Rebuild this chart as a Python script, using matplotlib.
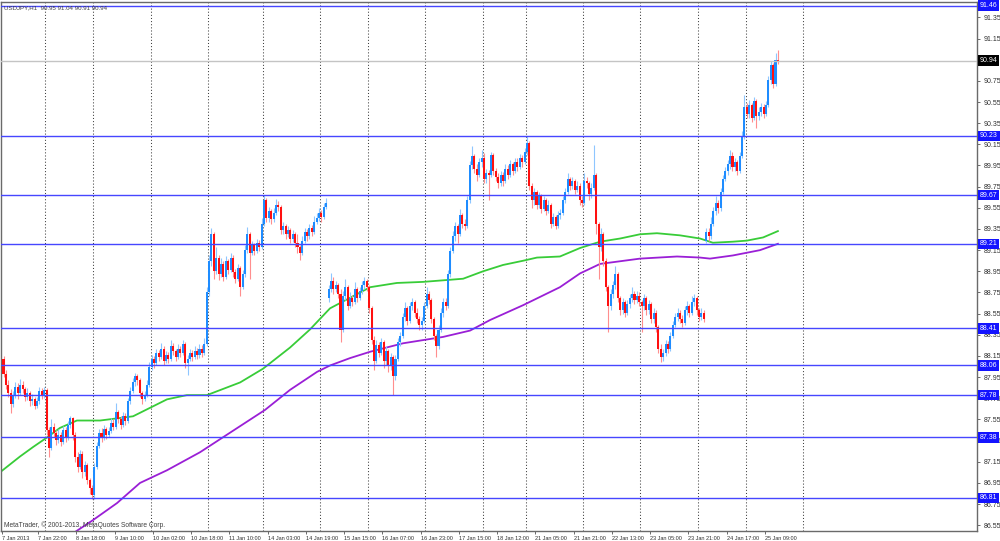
import matplotlib.pyplot as plt
import numpy as np

plt.rcParams['font.family'] = ['Liberation Sans', 'DejaVu Sans']

# USDJPY H1 bars (open = previous close unless noted)
first_open = 88.12
gap_opens = {136: 88.70, 294: 89.24, 324: 90.95}

closes = [
    87.98, 87.88, 87.80, 87.70, 87.78, 87.86, 87.80, 87.88, 87.84, 87.76,  # 0
    87.80, 87.72, 87.74, 87.68, 87.72, 87.82, 87.78, 87.83, 87.45, 87.28,
    87.48, 87.42, 87.36, 87.40, 87.34, 87.45, 87.38, 87.50, 87.56, 87.40,
    87.20, 87.10, 87.22, 87.05, 87.12, 86.98, 86.90, 86.84, 87.10, 87.30,
    87.42, 87.38, 87.46, 87.40, 87.44, 87.52, 87.48, 87.62, 87.55, 87.50,
    87.58, 87.54, 87.72, 87.82, 87.90, 87.96, 87.92, 87.80, 87.74, 87.78,  # 50
    87.88, 88.05, 88.12, 88.08, 88.18, 88.14, 88.22, 88.10, 88.16, 88.12,
    88.24, 88.20, 88.14, 88.22, 88.18, 88.26, 88.08, 88.12, 88.18, 88.14,
    88.20, 88.16, 88.22, 88.18, 88.26, 88.75, 89.05, 89.30, 88.95, 89.08,
    88.92, 89.02, 88.90, 89.05, 88.96, 89.08, 88.94, 88.88, 88.98, 88.80,
    88.92, 89.15, 89.30, 89.12, 89.20, 89.14, 89.22, 89.18, 89.40, 89.62,  # 100
    89.45, 89.52, 89.44, 89.50, 89.58, 89.56, 89.34, 89.38, 89.30, 89.34,
    89.26, 89.30, 89.22, 89.18, 89.12, 89.24, 89.32, 89.28, 89.36, 89.32,
    89.42, 89.45, 89.50, 89.46, 89.56, 89.60, 88.78, 88.86, 88.78, 88.82,
    88.74, 88.40, 88.72, 88.80, 88.62, 88.70, 88.66, 88.78, 88.70, 88.76,
    88.82, 88.86, 88.80, 88.60, 88.30, 88.10, 88.25, 88.18, 88.28, 88.10,  # 150
    88.20, 88.06, 88.14, 87.96, 88.12, 88.28, 88.34, 88.52, 88.60, 88.48,
    88.62, 88.66, 88.56, 88.50, 88.44, 88.48, 88.62, 88.74, 88.68, 88.50,
    88.34, 88.24, 88.40, 88.56, 88.66, 88.62, 88.92, 89.14, 89.28, 89.38,
    89.30, 89.48, 89.40, 89.38, 89.62, 89.95, 90.04, 89.92, 89.86, 89.98,
    90.02, 89.82, 89.88, 89.86, 90.05, 89.90, 89.84, 89.78, 89.86, 89.80,  # 200
    89.92, 89.86, 89.96, 89.90, 89.98, 89.94, 90.02, 89.98, 90.08, 90.16,
    89.76, 89.62, 89.70, 89.58, 89.66, 89.54, 89.62, 89.52, 89.58, 89.40,
    89.46, 89.38, 89.48, 89.50, 89.62, 89.70, 89.82, 89.76, 89.80, 89.72,
    89.76, 89.62, 89.60, 89.80, 89.78, 89.68, 89.74, 89.86, 89.40, 89.18,
    89.30, 89.05, 88.80, 88.62, 88.74, 88.82, 88.92, 88.70, 88.58, 88.66,  # 250
    88.56, 88.64, 88.70, 88.74, 88.68, 88.72, 88.66, 88.62, 88.70, 88.58,
    88.64, 88.50, 88.56, 88.42, 88.22, 88.14, 88.18, 88.26, 88.22, 88.34,
    88.44, 88.52, 88.56, 88.50, 88.46, 88.58, 88.62, 88.56, 88.66, 88.70,
    88.58, 88.52, 88.56, 88.50, 89.32, 89.28, 89.40, 89.52, 89.60, 89.55,
    89.70, 89.82, 89.90, 89.96, 90.04, 89.94, 89.98, 89.90, 90.04, 90.22,  # 300
    90.50, 90.44, 90.52, 90.40, 90.56, 90.42, 90.46, 90.50, 90.44, 90.52,
    90.76, 90.90, 90.72, 90.95, 90.94,
]

highs = [
    88.15, 88.02, 87.92, 87.84, 87.82, 87.90, 87.89, 87.93, 87.91, 87.86,
    87.85, 87.82, 87.79, 87.76, 87.76, 87.86, 87.85, 87.86, 87.85, 87.48,
    87.55, 87.52, 87.45, 87.46, 87.43, 87.49, 87.48, 87.54, 87.58, 87.57,
    87.43, 87.24, 87.26, 87.25, 87.16, 87.14, 87.00, 86.93, 87.14, 87.34,
    87.46, 87.47, 87.50, 87.48, 87.48, 87.56, 87.55, 87.71, 87.64, 87.58,
    87.62, 87.61, 87.75, 87.86, 87.94, 87.99, 87.98, 87.94, 87.82, 87.82,
    87.92, 88.09, 88.16, 88.15, 88.22, 88.21, 88.27, 88.24, 88.20, 88.19,
    88.30, 88.27, 88.22, 88.26, 88.24, 88.30, 88.28, 88.16, 88.22, 88.21,
    88.24, 88.23, 88.26, 88.25, 88.32, 88.80, 89.10, 89.36, 89.32, 89.18,
    89.10, 89.08, 89.05, 89.09, 89.07, 89.12, 89.10, 88.97, 89.02, 89.00,
    88.96, 89.20, 89.37, 89.32, 89.24, 89.22, 89.26, 89.25, 89.45, 89.67,
    89.64, 89.56, 89.54, 89.55, 89.63, 89.61, 89.58, 89.42, 89.40, 89.38,
    89.36, 89.34, 89.32, 89.30, 89.20, 89.28, 89.36, 89.35, 89.40, 89.39,
    89.47, 89.50, 89.55, 89.53, 89.60, 89.64, 88.82, 88.93, 88.90, 88.86,
    88.84, 88.78, 88.76, 88.88, 88.82, 88.75, 88.73, 88.85, 88.80, 88.80,
    88.86, 88.90, 88.88, 88.82, 88.62, 88.34, 88.30, 88.28, 88.32, 88.30,
    88.24, 88.22, 88.18, 88.16, 88.16, 88.32, 88.38, 88.56, 88.66, 88.62,
    88.66, 88.70, 88.68, 88.60, 88.53, 88.52, 88.66, 88.80, 88.76, 88.70,
    88.52, 88.36, 88.44, 88.60, 88.70, 88.70, 88.96, 89.18, 89.33, 89.42,
    89.40, 89.54, 89.50, 89.44, 89.66, 89.99, 90.13, 90.06, 89.96, 90.02,
    90.10, 90.07, 89.92, 89.91, 90.08, 90.07, 89.93, 89.88, 89.90, 89.89,
    89.96, 89.95, 90.00, 89.98, 90.02, 90.02, 90.06, 90.05, 90.12, 90.23,
    90.18, 89.78, 89.74, 89.72, 89.70, 89.68, 89.66, 89.64, 89.62, 89.60,
    89.50, 89.48, 89.52, 89.54, 89.66, 89.74, 89.88, 89.84, 89.84, 89.82,
    89.80, 89.78, 89.66, 89.88, 89.84, 89.80, 89.78, 90.14, 89.88, 89.42,
    89.36, 89.32, 89.08, 88.82, 88.78, 88.86, 89.00, 88.94, 88.72, 88.70,
    88.68, 88.68, 88.74, 88.80, 88.76, 88.76, 88.75, 88.68, 88.74, 88.72,
    88.68, 88.66, 88.60, 88.58, 88.44, 88.26, 88.22, 88.30, 88.29, 88.38,
    88.48, 88.56, 88.60, 88.58, 88.54, 88.62, 88.67, 88.64, 88.72, 88.74,
    88.72, 88.60, 88.60, 88.58, 89.36, 89.36, 89.46, 89.56, 89.66, 89.62,
    89.74, 89.86, 89.94, 90.00, 90.10, 90.08, 90.02, 90.00, 90.08, 90.28,
    90.62, 90.54, 90.57, 90.54, 90.60, 90.58, 90.50, 90.54, 90.53, 90.56,
    90.80, 90.94, 90.92, 91.01, 91.04,
]

lows = [
    87.95, 87.84, 87.76, 87.61, 87.67, 87.75, 87.74, 87.78, 87.80, 87.72,
    87.73, 87.68, 87.69, 87.65, 87.66, 87.70, 87.74, 87.75, 87.40, 87.20,
    87.26, 87.38, 87.31, 87.33, 87.30, 87.32, 87.34, 87.36, 87.47, 87.36,
    87.15, 87.05, 87.08, 87.00, 87.02, 86.94, 86.85, 86.80, 86.80, 87.08,
    87.28, 87.34, 87.36, 87.37, 87.38, 87.42, 87.45, 87.46, 87.52, 87.46,
    87.48, 87.50, 87.52, 87.70, 87.80, 87.87, 87.88, 87.76, 87.70, 87.72,
    87.76, 87.86, 88.02, 88.04, 88.06, 88.10, 88.12, 88.06, 88.08, 88.08,
    88.10, 88.16, 88.10, 88.12, 88.14, 88.16, 88.04, 87.97, 88.10, 88.10,
    88.12, 88.12, 88.13, 88.14, 88.16, 88.24, 88.72, 89.00, 88.88, 88.92,
    88.87, 88.90, 88.86, 88.88, 88.92, 88.94, 88.90, 88.84, 88.86, 88.72,
    88.78, 88.90, 89.12, 88.88, 89.10, 89.10, 89.12, 89.14, 89.16, 89.38,
    89.42, 89.42, 89.40, 89.42, 89.48, 89.52, 89.30, 89.30, 89.26, 89.27,
    89.22, 89.23, 89.18, 89.12, 89.06, 89.10, 89.22, 89.24, 89.26, 89.28,
    89.30, 89.40, 89.43, 89.42, 89.44, 89.54, 88.66, 88.75, 88.74, 88.75,
    88.70, 88.28, 88.38, 88.68, 88.58, 88.60, 88.62, 88.64, 88.66, 88.68,
    88.74, 88.78, 88.76, 88.56, 88.26, 88.02, 88.08, 88.14, 88.16, 88.04,
    88.06, 88.00, 88.02, 87.78, 87.92, 88.10, 88.24, 88.32, 88.48, 88.44,
    88.46, 88.58, 88.52, 88.46, 88.40, 88.40, 88.46, 88.60, 88.64, 88.46,
    88.30, 88.14, 88.22, 88.38, 88.52, 88.58, 88.60, 88.90, 89.12, 89.24,
    89.22, 89.28, 89.36, 89.34, 89.36, 89.60, 89.92, 89.88, 89.80, 89.84,
    89.94, 89.78, 89.78, 89.62, 89.84, 89.86, 89.80, 89.74, 89.76, 89.76,
    89.78, 89.82, 89.84, 89.86, 89.88, 89.90, 89.92, 89.94, 89.96, 90.05,
    89.72, 89.55, 89.58, 89.54, 89.55, 89.50, 89.52, 89.48, 89.50, 89.36,
    89.38, 89.35, 89.36, 89.44, 89.48, 89.60, 89.68, 89.72, 89.73, 89.68,
    89.70, 89.58, 89.56, 89.58, 89.74, 89.62, 89.64, 89.72, 89.30, 88.88,
    89.14, 89.00, 88.76, 88.38, 88.58, 88.70, 88.78, 88.66, 88.54, 88.55,
    88.52, 88.54, 88.60, 88.66, 88.64, 88.65, 88.62, 88.38, 88.58, 88.54,
    88.55, 88.46, 88.46, 88.38, 88.18, 88.09, 88.10, 88.15, 88.18, 88.20,
    88.32, 88.42, 88.48, 88.46, 88.42, 88.44, 88.54, 88.52, 88.54, 88.62,
    88.54, 88.48, 88.49, 88.47, 89.22, 89.24, 89.26, 89.38, 89.48, 89.50,
    89.52, 89.68, 89.80, 89.86, 89.92, 89.90, 89.90, 89.86, 89.88, 90.02,
    90.20, 90.40, 90.40, 90.36, 90.38, 90.30, 90.38, 90.42, 90.40, 90.42,
    90.50, 90.72, 90.68, 90.70, 90.91,
]

# moving averages, sampled along the drawn curves (bar index, price)
ma_fast_x = [-1.5, 6.9, 12.4, 18.2, 23.6, 30.7, 40.4, 47.4, 54.2, 61.3, 68.4,
             76.7, 85.1, 99.0, 108.6, 119.9, 128.2, 136.6, 145.0, 153.4, 164.6,
             175.5, 186.8, 192.3, 200.6, 209.0, 217.4, 223.2, 232.8, 241.2,
             249.6, 258.0, 266.3, 273.4, 283.0, 291.4, 296.8, 305.2, 311.0,
             317.8, 324.0]
ma_fast_y = [87.05, 87.20, 87.29, 87.38, 87.47, 87.54, 87.54, 87.56, 87.58,
             87.66, 87.74, 87.78, 87.78, 87.90, 88.03, 88.23, 88.40, 88.60,
             88.70, 88.80, 88.84, 88.85, 88.87, 88.88, 88.95, 89.01, 89.05,
             89.08, 89.09, 89.17, 89.23, 89.26, 89.30, 89.31, 89.29, 89.26,
             89.22, 89.23, 89.24, 89.27, 89.33]
ma_slow_x = [29.5, 37.5, 47.5, 57.1, 68.4, 82.2, 109.4, 119.9, 131.2, 136.6,
             145.0, 153.4, 167.2, 183.9, 195.2, 203.6, 217.4, 232.8, 241.2,
             249.6, 266.3, 281.8, 291.4, 295.6, 305.2, 316.5, 324.0]
ma_slow_y = [86.48, 86.60, 86.76, 86.95, 87.07, 87.24, 87.64, 87.83, 88.00,
             88.06, 88.13, 88.19, 88.27, 88.33, 88.39, 88.49, 88.63, 88.80,
             88.93, 89.02, 89.07, 89.09, 89.08, 89.07, 89.10, 89.15, 89.21]

level_prices = [91.46, 90.23, 89.67, 89.21, 88.41, 88.06, 87.78, 87.38, 86.81]
bid_price = 90.94

price_ticks = [86.55, 86.75, 86.95, 87.15, 87.35, 87.55, 87.75, 87.95, 88.15,
               88.35, 88.55, 88.75, 88.95, 89.15, 89.35, 89.55, 89.75, 89.95,
               90.15, 90.35, 90.55, 90.75, 90.95, 91.15, 91.35]

time_labels = ['7 Jan 2013', '7 Jan 22:00', '8 Jan 18:00', '9 Jan 10:00',
               '10 Jan 02:00', '10 Jan 18:00', '11 Jan 10:00', '14 Jan 03:00',
               '14 Jan 19:00', '15 Jan 15:00', '16 Jan 07:00', '16 Jan 23:00',
               '17 Jan 15:00', '18 Jan 12:00', '21 Jan 05:00', '21 Jan 21:00',
               '22 Jan 13:00', '23 Jan 05:00', '23 Jan 21:00', '24 Jan 17:00',
               '25 Jan 09:00']
time_label_bars = [-0.8, 14.5, 30.5, 46.5, 62.5, 78.5, 94.5, 110.5, 126.5,
                   142.5, 158.5, 174.5, 190.5, 206.5, 222.5, 238.5, 254.5,
                   270.5, 286.5, 302.5, 318.5]

# day separators (dotted grid)
day_bars = [17.5, 37.5, 61.5, 85.5, 108.5, 132.5, 152.5, 176.5, 200.5, 218.5,
            242.5, 266.5, 290.5, 310.5, 334.5]

title = 'USDJPY,H1  90.95 91.04 90.91 90.94'
copyright_text = 'MetaTrader, \u00a9 2001-2013, MetaQuotes Software Corp.'

# --- build OHLC arrays
c = np.array(closes)
o = np.concatenate([[first_open], c[:-1]])
for i, v in gap_opens.items():
    o[i] = v
h = np.maximum(np.array(highs), np.maximum(o, c))
l = np.minimum(np.array(lows), np.minimum(o, c))
idx = np.arange(len(c))
up = c >= o

fig = plt.figure(figsize=(10, 5.41), dpi=100)
fig.patch.set_facecolor('white')
ax = fig.add_axes([0.001, 10 / 541, 0.976, 529 / 541])
ax.set_xlim(-1.05, 407.3)
ax.set_ylim(86.496, 91.495)

frame_col = '#6a6a6a'
for sp in ax.spines.values():
    sp.set_color(frame_col)
    sp.set_linewidth(1)

# grid
for xb in day_bars:
    ax.axvline(xb, color='#404040', lw=0.75, ls=(0, (1, 2)), zorder=1)

# moving averages
ax.plot(ma_slow_x, ma_slow_y, color='#9a1fd6', lw=1.3, zorder=2)
ax.plot(ma_fast_x, ma_fast_y, color='#38cc38', lw=1.3, zorder=2)

# candles
ax.vlines(idx[up], l[up], h[up], color='#8ec6ff', lw=0.8, zorder=3)
ax.vlines(idx[~up], l[~up], h[~up], color='#ff8e8e', lw=0.8, zorder=3)
body = np.maximum(np.abs(c - o), 0.008)
ax.bar(idx[up], body[up], bottom=np.minimum(o, c)[up], width=0.85,
       color='#1e8cff', lw=0, zorder=4)
ax.bar(idx[~up], body[~up], bottom=np.minimum(o, c)[~up], width=0.85,
       color='#ff1010', lw=0, zorder=4)

# horizontal levels
ytr = ax.get_yaxis_transform()
for p in level_prices:
    ax.axhline(p, color='#4646ff', lw=1, zorder=5)
    ax.text(1.003, p, f'{p:.2f}', transform=ytr, ha='left', va='center',
            fontsize=5, color='white', clip_on=False, zorder=10,
            bbox=dict(boxstyle='square,pad=0.25', fc='#1414ff', ec='none'))
ax.axhline(bid_price, color='#c4c4c4', lw=1, zorder=5)
ax.text(1.003, bid_price, f'{bid_price:.2f}', transform=ytr, ha='left',
        va='center', fontsize=5, color='white', clip_on=False, zorder=10,
        bbox=dict(boxstyle='square,pad=0.25', fc='black', ec='none'))

# axes ticks
ax.yaxis.tick_right()
ax.set_yticks(price_ticks, labels=[f'{p:.2f}' for p in price_ticks])
ax.tick_params(axis='y', length=2.5, width=0.7, color=frame_col, pad=2,
               labelsize=5, labelcolor='#303030')
# the bid box hides the tick label right next to it, as in the terminal
for tick_p, lab in zip(price_ticks, ax.get_yticklabels()):
    if abs(tick_p - bid_price) < 0.03:
        lab.set_visible(False)
ax.set_xticks(time_label_bars, labels=time_labels)
for lab in ax.get_xticklabels():
    lab.set_horizontalalignment('left')
ax.tick_params(axis='x', length=2.5, width=0.7, color=frame_col, pad=1,
               labelsize=4.0, labelcolor='#303030')

ax.text(0.003, 0.993, title, transform=ax.transAxes, ha='left', va='top',
        fontsize=4.4, color='#404040', zorder=11)
ax.text(0.003, 0.004, copyright_text, transform=ax.transAxes, ha='left',
        va='bottom', fontsize=4.8, color='#404040', zorder=11)

fig.savefig('out.png', dpi=100, facecolor='white')
